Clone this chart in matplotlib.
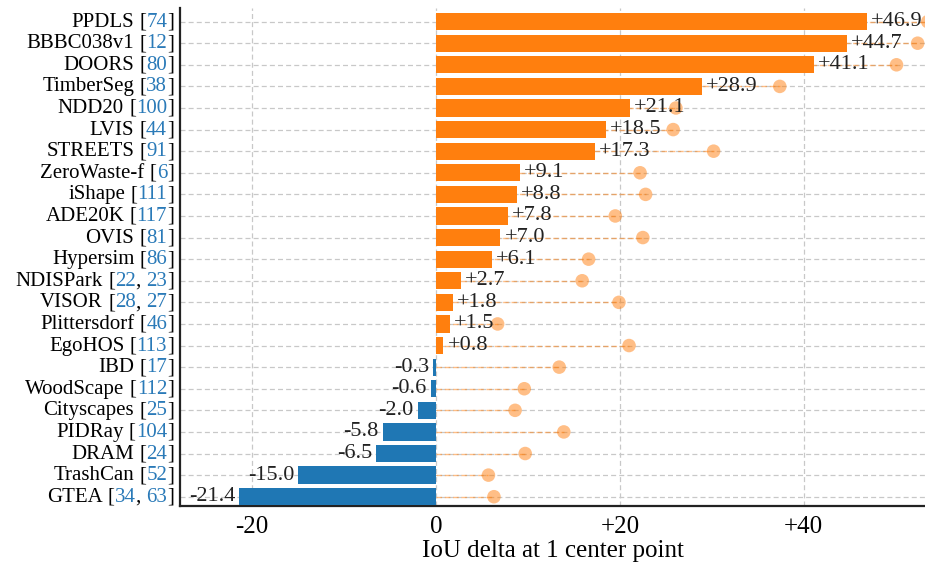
import numpy as np
import matplotlib
matplotlib.use("Agg")
import matplotlib.pyplot as plt
from matplotlib.transforms import offset_copy

plt.rcParams['font.family'] = ['Liberation Serif', 'DejaVu Serif']

# datasets, top to bottom
names = ['PPDLS', 'BBBC038v1', 'DOORS', 'TimberSeg', 'NDD20', 'LVIS', 'STREETS',
         'ZeroWaste-f', 'iShape', 'ADE20K', 'OVIS', 'Hypersim', 'NDISPark', 'VISOR',
         'Plittersdorf', 'EgoHOS', 'IBD', 'WoodScape', 'Cityscapes', 'PIDRay', 'DRAM',
         'TrashCan', 'GTEA']
cites = [[74], [12], [80], [38], [100], [44], [91], [6], [111], [117], [81], [86],
         [22, 23], [28, 27], [46], [113], [17], [112], [25], [104], [24], [52], [34, 63]]
# IoU delta at 1 center point
delta = [46.9, 44.7, 41.1, 28.9, 21.1, 18.5, 17.3, 9.1, 8.8, 7.8, 7.0, 6.1, 2.7, 1.8,
         1.5, 0.8, -0.3, -0.6, -2.0, -5.8, -6.5, -15.0, -21.4]
# oracle delta (dots)
oracle = [53.5, 52.4, 50.1, 37.4, 26.1, 25.8, 30.2, 22.2, 22.8, 19.5, 22.5, 16.6, 15.9,
          19.9, 6.7, 21.0, 13.4, 9.6, 8.6, 13.9, 9.7, 5.7, 6.3]

orange = '#ff7f0e'
blue = '#1f77b4'
cite_blue = '#2a7ab8'
fs = 15

fig = plt.figure(figsize=(9.25, 5.65), dpi=100)
ax = fig.add_axes([180 / 925, 1 - 506 / 565, 1 - 180 / 925, (506 - 8) / 565])

y = np.arange(len(names))
colors = [orange if d > 0 else blue for d in delta]

ax.hlines(y, 0, oracle, colors=orange, linestyles=(0, (4, 2)), lw=1.0, alpha=0.5, zorder=2)
ax.scatter(oracle, y, s=95, color=orange, alpha=0.5, edgecolors='none', zorder=3)
ax.barh(y, delta, height=0.8, color=colors, zorder=4)

for yi, d in zip(y, delta):
    if d > 0:
        ax.annotate('+%.1f' % d, (d, yi), xytext=(3, 0), textcoords='offset points',
                    ha='left', va='center', fontsize=fs + 1, color='#222222', zorder=5)
    else:
        ax.annotate('%.1f' % d, (d, yi), xytext=(-3, 0), textcoords='offset points',
                    ha='right', va='center', fontsize=fs + 1, color='#222222', zorder=5)

ax.set_xlim(-27.86, 53.2)
ax.set_ylim(22.43, -0.63)
ax.set_xticks([-20, 0, 20, 40])
ax.set_xticklabels(['-20', '0', '+20', '+40'], fontsize=18)
ax.set_yticks(y)
ax.set_yticklabels([])
ax.tick_params(length=0, pad=7)
ax.set_xlabel('IoU delta at 1 center point', fontsize=18, labelpad=2)

ax.grid(True, ls=(0, (4, 2.5)), color='#c8c8c8', lw=0.9, zorder=0)
ax.set_axisbelow(True)
for s in ['top', 'right']:
    ax.spines[s].set_visible(False)
for s in ['left', 'bottom']:
    ax.spines[s].set_linewidth(1.6)
    ax.spines[s].set_color('#222222')

# y labels: name in black, citation numbers in blue, built right to left
fig.canvas.draw()
r = fig.canvas.get_renderer()
space = 0.25 * fs * fig.dpi / 72
for yi, name, refs in zip(y, names, cites):
    pieces = [(name, 'black', space), ('[', 'black', 0)]
    for j, ref in enumerate(refs):
        if j:
            pieces.append((',', 'black', space))
        pieces.append((str(ref), cite_blue, 0))
    pieces.append((']', 'black', 0))
    off = 6
    for txt, col, gap in reversed(pieces):
        off += gap
        tr = offset_copy(ax.get_yaxis_transform(), fig=fig, x=-off, y=-5, units='dots')
        t = ax.text(0, yi, txt, color=col, ha='right', va='baseline', fontsize=fs,
                    transform=tr, clip_on=False)
        off += t.get_window_extent(r).width

fig.savefig('out.png', dpi=100)
